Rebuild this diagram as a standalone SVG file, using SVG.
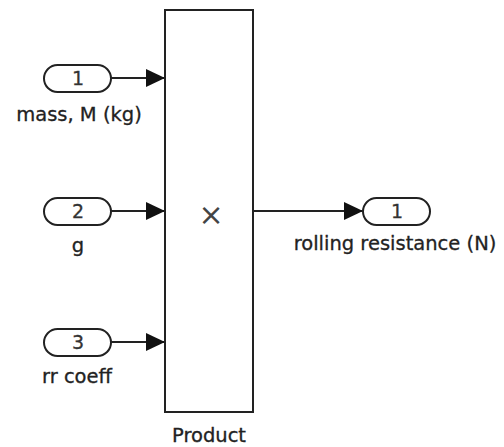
<svg xmlns="http://www.w3.org/2000/svg" width="504" height="447" viewBox="0 0 504 447">
<style>
.blk{fill:#fff;stroke:#222;stroke-width:2}
.pill{fill:#fff;stroke:#222;stroke-width:2}
.ln{fill:none;stroke:#222;stroke-width:2}
.t{font-family:"DejaVu Sans",Verdana,sans-serif;font-size:19.5px;fill:#222;text-anchor:middle;stroke:#222;stroke-width:0.3}
.n{font-family:"DejaVu Sans",Verdana,sans-serif;font-size:19px;fill:#333;text-anchor:middle;stroke:#333;stroke-width:0.3}
</style>
<defs>
<marker id="ah" markerUnits="userSpaceOnUse" markerWidth="19" markerHeight="18" refX="19" refY="9" orient="auto">
<path d="M0,0 L19,9 L0,18 Z" fill="#111"/>
</marker>
</defs>
<rect width="504" height="447" fill="#fff"/>
<g id="connectors">
<line class="ln" x1="111" y1="78" x2="165" y2="78" marker-end="url(#ah)"/>
<line class="ln" x1="111" y1="211" x2="165" y2="211" marker-end="url(#ah)"/>
<line class="ln" x1="111" y1="342" x2="165" y2="342" marker-end="url(#ah)"/>
<line class="ln" x1="253" y1="211" x2="363" y2="211" marker-end="url(#ah)"/>
</g>
<g id="product">
<rect class="blk" x="165" y="10" width="88" height="402"/>
<text x="211" y="225" style="font-family:'DejaVu Sans',sans-serif;font-size:30px;fill:#444;text-anchor:middle">×</text>
<text class="t" x="209" y="442">Product</text>
</g>
<g id="in1">
<rect class="pill" x="44" y="65" width="67" height="27" rx="13.5"/>
<text class="n" x="78" y="85">1</text>
<text class="t" x="79" y="121">mass, M (kg)</text>
</g>
<g id="in2">
<rect class="pill" x="44" y="198" width="67" height="27" rx="13.5"/>
<text class="n" x="78" y="218">2</text>
<text class="t" x="78" y="252">g</text>
</g>
<g id="in3">
<rect class="pill" x="44" y="329" width="67" height="27" rx="13.5"/>
<text class="n" x="78" y="349">3</text>
<text class="t" x="77" y="383">rr coeff</text>
</g>
<g id="out1">
<rect class="pill" x="363" y="198" width="67" height="27" rx="13.5"/>
<text class="n" x="397" y="218">1</text>
<text class="t" x="395" y="250">rolling resistance (N)</text>
</g>
</svg>
